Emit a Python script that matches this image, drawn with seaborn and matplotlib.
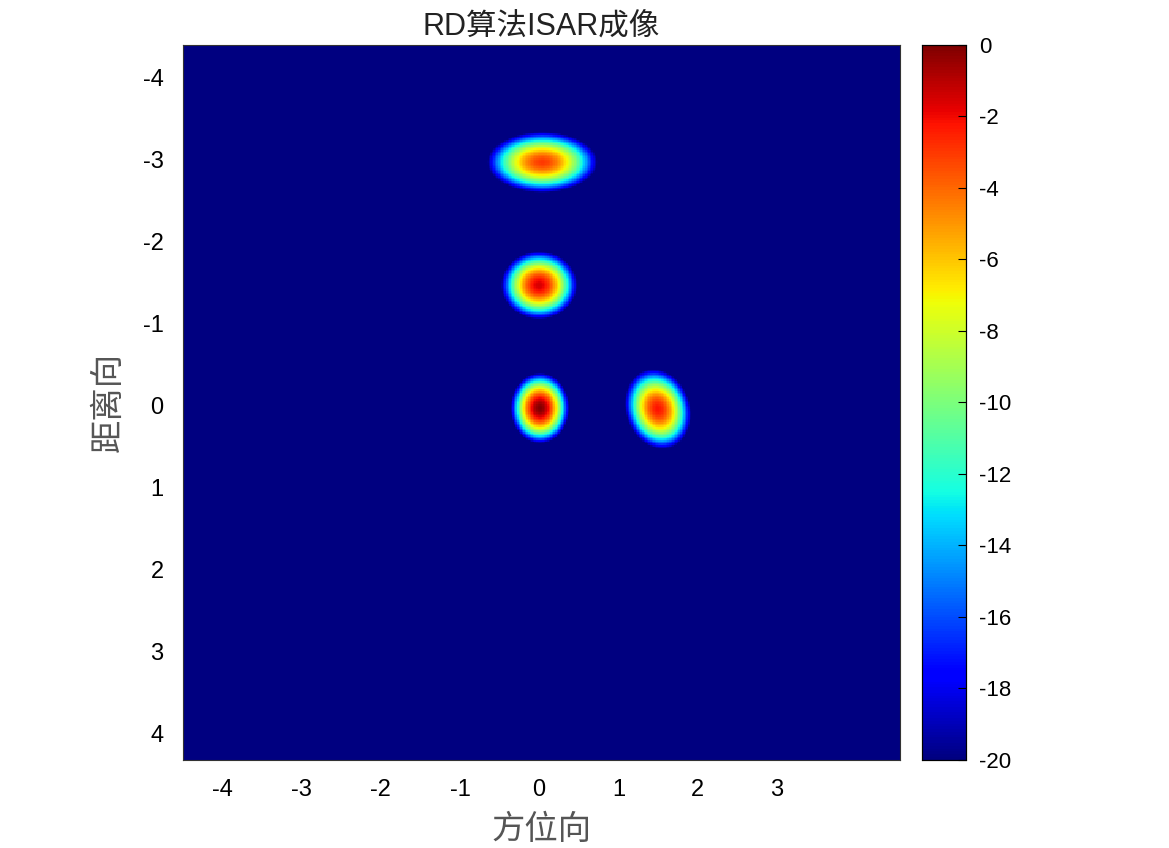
import matplotlib
matplotlib.use("Agg")
import matplotlib.pyplot as plt
import numpy as np
import pandas as pd
import seaborn as sns

# 散射点参数（方位向, 距离向, 峰值dB, 方位半宽, 距离半宽, 倾斜）
pt_azimuth = [0.04, 0.0, 0.01, 1.50]
pt_range = [-2.97, -1.47, 0.03, 0.04]
pt_peak_db = [-3.0, -1.5, 0.0, -2.2]
pt_half_az = [0.76, 0.50, 0.37, 0.44]
pt_half_rg = [0.40, 0.43, 0.43, 0.52]
pt_tilt = [0.0, 0.0, 0.0, 0.12]

# 坐标范围与刻度
az_lim = [-4.5, 4.55]
rg_lim = [-4.4, 4.32]
az_ticks = [-4, -3, -2, -1, 0, 1, 2, 3]
rg_ticks = [-4, -3, -2, -1, 0, 1, 2, 3, 4]
cb_ticks = [0, -2, -4, -6, -8, -10, -12, -14, -16, -18, -20]
db_floor = -20

step = 0.02
az = np.arange(az_lim[0], az_lim[1], step) + step / 2
rg = np.arange(rg_lim[0], rg_lim[1], step) + step / 2
AZ, RG = np.meshgrid(az, rg)

img = np.full(AZ.shape, db_floor, dtype=float)
for x0, y0, pk, wa, wr, s in zip(pt_azimuth, pt_range, pt_peak_db, pt_half_az, pt_half_rg, pt_tilt):
    dy = RG - y0
    dx = AZ - x0 - s * dy
    r = np.sqrt((dx / wa) ** 2 + (dy / wr) ** 2)
    val = pk - 20 * r ** 1.8
    img = np.maximum(img, val)
img = np.clip(img, db_floor, 0)

df = pd.DataFrame(img, index=np.round(rg, 3), columns=np.round(az, 3))

plt.rcParams['font.family'] = ['Liberation Sans', 'Noto Sans CJK SC', 'DejaVu Sans']
plt.rcParams['axes.unicode_minus'] = False

fig = plt.figure(figsize=(11.69, 8.48), dpi=100)
ax = fig.add_axes([0.1565, 0.104, 0.6135, 0.843])
cax = fig.add_axes([0.789, 0.104, 0.037, 0.843])

sns.heatmap(df, ax=ax, cmap='jet', vmin=db_floor, vmax=0, cbar_ax=cax,
            xticklabels=False, yticklabels=False, rasterized=True)

ax.set_xticks([(t - az_lim[0]) / step for t in az_ticks])
ax.set_xticklabels([str(t) for t in az_ticks], fontsize=17)
ax.set_yticks([(t - rg_lim[0]) / step for t in rg_ticks])
ax.set_yticklabels([str(t) for t in rg_ticks], fontsize=17, rotation=0)
ax.tick_params(length=0, pad=14)
for sp in ax.spines.values():
    sp.set_visible(True)
    sp.set_linewidth(0.8)
    sp.set_color('#333333')

ax.set_xlabel('方位向', fontsize=24, color='#555555', labelpad=8,
              family=['Noto Sans CJK SC', 'DejaVu Sans'])
ax.set_ylabel('距离向', fontsize=24, color='#555555', labelpad=12,
              family=['Noto Sans CJK SC', 'DejaVu Sans'])
ax.set_title('RD算法ISAR成像', fontsize=22, color='#222222', pad=7,
             family=['Liberation Sans', 'Noto Sans CJK SC'])

cax.set_yticks(cb_ticks)
cax.set_yticklabels([str(t) for t in cb_ticks], fontsize=16)
cax.tick_params(direction='in', length=6, width=0.8, pad=10)
for sp in cax.spines.values():
    sp.set_visible(True)
    sp.set_linewidth(0.8)

fig.savefig('out.png', dpi=100)
